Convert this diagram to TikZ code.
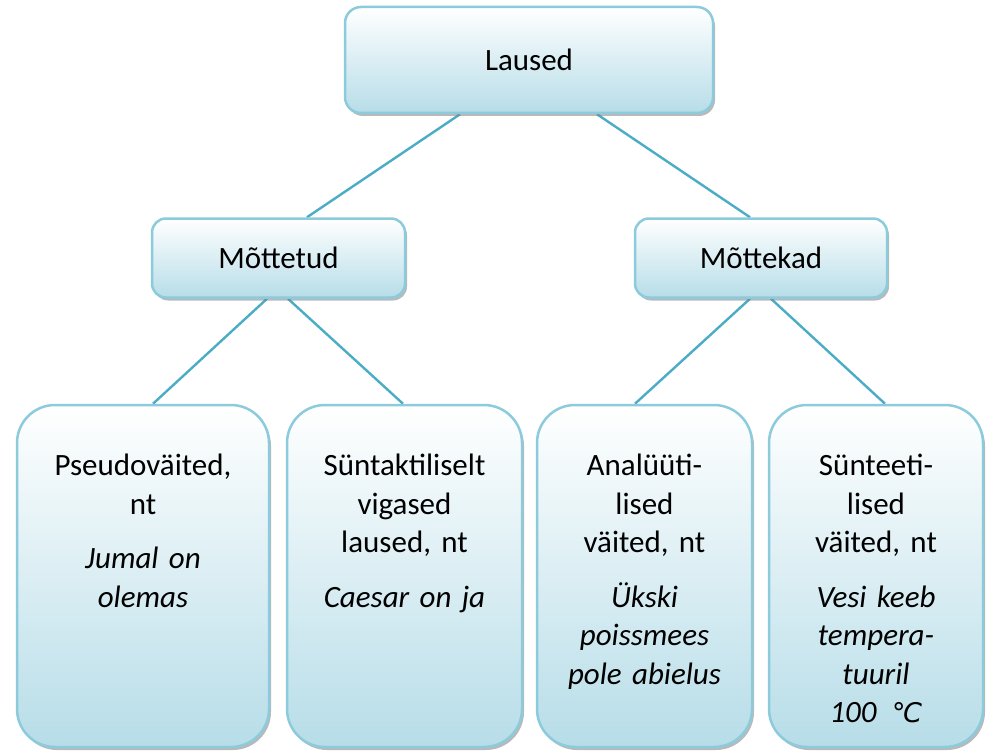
\documentclass[tikz,border=0pt]{standalone}
\usepackage{fontspec}
\setmainfont{Carlito}
\newfontfamily\symfont{DejaVu Sans}
\usetikzlibrary{calc,shadows,backgrounds}
\definecolor{boxborder}{RGB}{140,203,219}
\definecolor{boxbottom}{RGB}{183,221,232}
\definecolor{linkcol}{RGB}{75,172,198}
\tikzset{
  box/.style={draw=boxborder, line width=2.5pt, top color=white, bottom color=boxbottom,
    drop shadow={shadow xshift=2pt, shadow yshift=-3pt, fill=black!50, opacity=0.55},
    inner sep=0pt, font=\fontsize{31}{38.5}\selectfont},
  topbox/.style={box, rounded corners=16pt},
  midbox/.style={box, rounded corners=14pt},
  leafbox/.style={box, rounded corners=38pt},
  leaftext/.style={align=center, text width=210pt, inner sep=0pt, anchor=base, font=\fontsize{31}{38.5}\selectfont},
  link/.style={draw=linkcol, line width=2.4pt}
}
\begin{document}
\begin{tikzpicture}[x=1pt,y=-1pt]
\useasboundingbox (0,0) rectangle (990,754);
% boxes
\node[topbox, minimum width=368pt, minimum height=106pt] (L) at (529,60) {Laused};
\node[midbox, minimum width=253pt, minimum height=79pt] (M1) at (278.5,258) {Mõttetud};
\node[midbox, minimum width=252pt, minimum height=79pt] (M2) at (761,258) {Mõttekad};
\node[leafbox, minimum width=252pt, minimum height=342pt] (A) at (143,576) {};
\node[leafbox, minimum width=235pt, minimum height=342pt] (B) at (404.5,576) {};
\node[leafbox, minimum width=215pt, minimum height=342pt] (C) at (644.5,576) {};
\node[leafbox, minimum width=214pt, minimum height=342pt] (D) at (876,576) {};
% texts
\node[leaftext] (At) at ($(A.north)+(0,72)$) {Pseudoväited,\\ nt\\[16pt] \itshape Jumal on\\ \itshape olemas};
\node[leaftext] (Bt) at ($(B.north)+(0,72)$) {Süntaktiliselt\\ vigased\\ laused, nt\\[16pt] \itshape Caesar on ja};
\node[leaftext] (Ct) at ($(C.north)+(0,72)$) {Analüüti-\\ lised\\ väited, nt\\[16pt] \itshape Ükski\\ \itshape poissmees\\ \itshape pole abielus};
\node[leaftext] (Dt) at ($(D.north)+(0,72)$) {Sünteeti-\\ lised\\ väited, nt\\[16pt] \itshape Vesi keeb\\ \itshape tempera-\\ \itshape tuuril\\ \itshape 100\enspace{\symfont\fontsize{27}{38.5}\selectfont\itshape ℃}};
% connectors
\begin{scope}[on background layer]
\coordinate (l1) at ($(L.south)+(-69,0)$);
\coordinate (l2) at ($(L.south)+(68,0)$);
\coordinate (m1in) at ($(M1.north)+(28.5,0)$);
\coordinate (m2in) at ($(M2.north)+(-11,0)$);
\coordinate (m1a) at ($(M1.south)+(-11.5,0)$);
\coordinate (m1b) at ($(M1.south)+(9.5,0)$);
\coordinate (m2a) at ($(M2.south)+(-11,0)$);
\coordinate (m2b) at ($(M2.south)+(10,0)$);
\coordinate (ain) at ($(A.north)+(10,0)$);
\coordinate (bin) at ($(B.north)+(-1.5,0)$);
\coordinate (cin) at ($(C.north)+(-9.5,0)$);
\coordinate (din) at ($(D.north)+(9,0)$);
\draw[link] (l1) -- (m1in);
\draw[link] (l2) -- (m2in);
\draw[link] (m1a) -- (ain);
\draw[link] (m1b) -- (bin);
\draw[link] (m2a) -- (cin);
\draw[link] (m2b) -- (din);
\end{scope}
\end{tikzpicture}
\end{document}
